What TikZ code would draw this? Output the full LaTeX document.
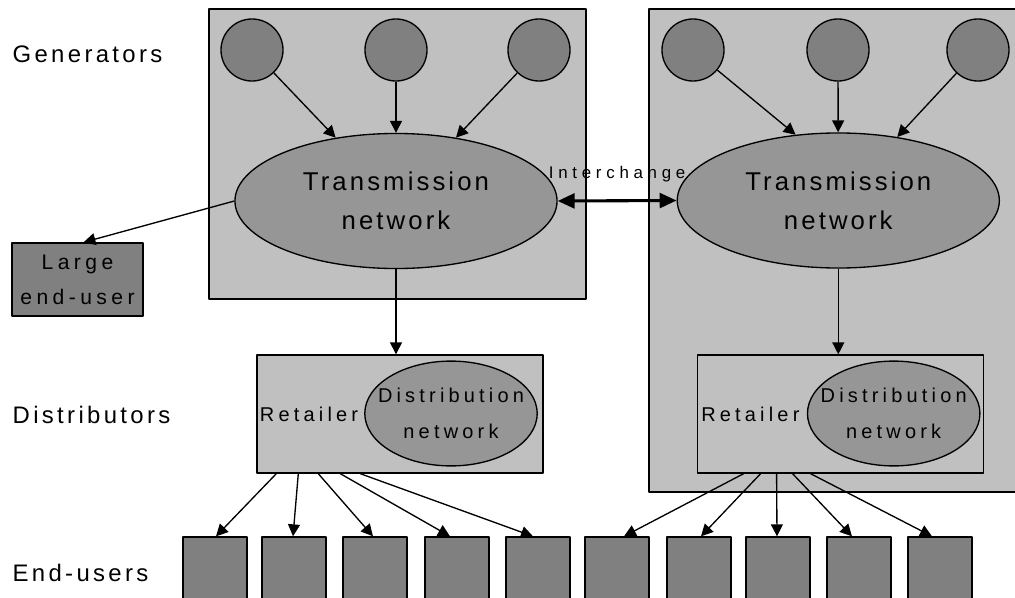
\documentclass[tikz,border=0pt]{standalone}
\usepackage{fontspec}
\setmainfont{Liberation Sans}
\newfontfamily\rowfont[LetterSpace=14]{Liberation Sans}
\newfontfamily\netfont[LetterSpace=12]{Liberation Sans}
\newfontfamily\boxfont[LetterSpace=21]{Liberation Sans}
\newfontfamily\tinyfont[LetterSpace=28]{Liberation Sans}
\usetikzlibrary{arrows.meta,shapes.geometric,calc}

\definecolor{areagray}{HTML}{C0C0C0}
\definecolor{unitgray}{HTML}{808080}
\definecolor{netgray}{HTML}{969696}

\tikzset{
    rowlabel/.style={anchor=west,inner sep=0pt,font=\rowfont\fontsize{17}{20}\selectfont},
    gen/.style={circle,draw,fill=unitgray,minimum size=1.55cm,inner sep=0pt},
    trans/.style={ellipse,draw,fill=netgray,minimum width=8.05cm,minimum height=3.375cm,
        inner sep=0pt,align=center,font=\netfont\fontsize{18.3}{27.7}\selectfont},
    dist/.style={ellipse,draw,fill=netgray,minimum width=4.31cm,minimum height=2.62cm,inner sep=0pt,
        label={[align=center,font=\boxfont\fontsize{14.2}{25.6}\selectfont]center:#1}},
    retail/.style={rectangle,draw,fill=areagray,minimum width=7.15cm,minimum height=2.95cm},
    enduser/.style={rectangle,draw,fill=unitgray,minimum width=1.6cm,minimum height=2.25cm},
    arr/.style={-{Triangle[length=8.5pt,width=8.5pt]}},
}

\begin{document}
\begin{tikzpicture}[x=0.025cm,y=-0.025cm,line width=0.95pt,line join=round]
    \useasboundingbox (0,0) rectangle (1015,598);
    \clip (0,0) rectangle (1015,598);
    % the two control areas
    \filldraw[fill=areagray] (209,9) rectangle (586,299);
    \filldraw[fill=areagray] (649,9) rectangle (1030,492);

    \node[rowlabel] (lblgen) at (12,54) {Generators};
    \node[rowlabel] (lbldist) at (12,415) {Distributors};
    \node[rowlabel] (lblend) at (12,573) {End-users};

    % generators
    \node[gen] (lg1) at (252,50) {};
    \node[gen] (lg2) at (396,50) {};
    \node[gen] (lg3) at (539,50) {};
    \node[gen] (rg1) at (693,50) {};
    \node[gen] (rg2) at (838,50) {};
    \node[gen] (rg3) at (978,50) {};

    \node[trans] (ltrans) at (396,201) {Transmission\\network};
    \node[trans] (rtrans) at (838.3,200.5) {Transmission\\network};

    \draw[arr] (lg1) -- (ltrans);
    \draw[arr] (lg2) -- (ltrans);
    \draw[arr] (lg3) -- (ltrans);
    \draw[arr] (rg1) -- (rtrans.123);
    \draw[arr] (rg2) -- (rtrans);
    \draw[arr] (rg3) -- (rtrans);

    \draw[line width=2.2pt,{Triangle[length=12pt,width=10.5pt]}-{Triangle[length=12pt,width=10.5pt]}]
        (ltrans.east) -- node[midway,anchor=base,yshift=15.6pt,inner sep=0pt,
            font=\tinyfont\fontsize{12}{14}\selectfont] (lblinter) {Interchange} (rtrans.west);

    % large end-user
    \node[rectangle,draw,fill=unitgray,minimum width=3.275cm,minimum height=1.825cm,
        align=center,font=\boxfont\fontsize{15}{24.9}\selectfont] (leu) at (77.5,279.5) {Large\\end-user};
    \draw[arr] (ltrans.west) -- ($(leu.north)+(6,0)$);

    % retailers
    \node[retail] (lret) at (400,414) {};
    \node[retail] (rret) at (840.3,414) {};
    \node[dist=Distribution\\network] (ldist) at (451,413.5) {};
    \node[dist=Distribution\\network] (rdist) at (893.7,413.5) {};
    \node[anchor=west,inner sep=0pt,font=\boxfont\fontsize{14.2}{17}\selectfont] (lretl) at ($(lret.west)+(3,0)$) {Retailer};
    \node[anchor=west,inner sep=0pt,font=\boxfont\fontsize{14.2}{17}\selectfont] (rretl) at ($(rret.west)+(4,0)$) {Retailer};
    \draw[arr] (ltrans.south) -- (ltrans.south |- lret.north);
    \draw[arr] (rtrans.south) -- (rtrans.south |- rret.north);

    % end-users
    \foreach \x [count=\i] in {215,294,375,457,538,617,699,778,859,940}
        \node[enduser] (eu\i) at (\x,582) {};
    \foreach \s/\t/\d in {20/1/1,42/2/-1,62/3/-2,84/4/-7,104/5/-5}
        \draw[arr] ($(lret.south west)+(\s,0)$) -- ($(eu\t.north)+(\d,0)$);
    \foreach \s/\t/\d in {47/6/7,64/7/2,80/8/-1,96/9/-7,114/10/-8}
        \draw[arr] ($(rret.south west)+(\s,0)$) -- ($(eu\t.north)+(\d,0)$);
\end{tikzpicture}
\end{document}
